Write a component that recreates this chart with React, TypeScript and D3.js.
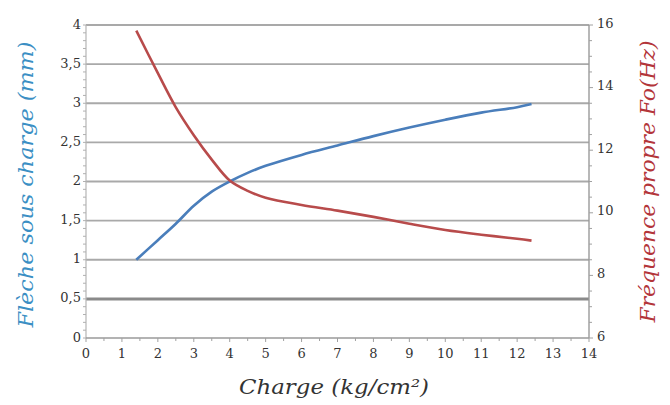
import * as d3 from "d3";
import { useEffect, useRef } from "react";

// Values
const charge = [1.4, 2, 2.5, 3, 3.5, 4, 4.5, 5, 6, 7, 8, 9, 10, 11, 12, 12.4];
const fleche = [1.0, 1.25, 1.46, 1.69, 1.87, 2.0, 2.11, 2.2, 2.34, 2.46, 2.58, 2.69, 2.79, 2.88, 2.95, 2.99];
const frequence = [15.82, 14.46, 13.37, 12.48, 11.7, 11.03, 10.7, 10.48, 10.25, 10.07, 9.87, 9.65, 9.45, 9.3, 9.17, 9.11];

const leftTicks = [0, 0.5, 1, 1.5, 2, 2.5, 3, 3.5, 4];
const rightTicks = [6, 8, 10, 12, 14, 16];
const xTicks = d3.range(0, 15);

export default function App() {
    const ref = useRef<SVGSVGElement>(null);

    useEffect(() => {
        const width = 670;
        const height = 405;
        const margin = { top: 25, right: 81, bottom: 67, left: 86 };

        const svg = d3.select(ref.current)
            .attr('width', width)
            .attr('height', height);

        svg.selectAll('*').remove();

        const x = d3.scaleLinear()
            .domain([0, 14])
            .range([margin.left, width - margin.right]);

        const yLeft = d3.scaleLinear()
            .domain([0, 4])
            .range([height - margin.bottom, margin.top]);

        const yRight = d3.scaleLinear()
            .domain([6, 16])
            .range([height - margin.bottom, margin.top]);

        const tickFont = "'DejaVu Serif', serif";

        // Horizontal grid lines
        svg.append('g')
            .selectAll('line')
            .data(leftTicks.filter(d => d > 0))
            .join('line')
            .attr('x1', x(0))
            .attr('x2', x(14))
            .attr('y1', d => yLeft(d))
            .attr('y2', d => yLeft(d))
            .attr('stroke', d => d === 0.5 ? '#8a8a8a' : '#a9a9a9')
            .attr('stroke-width', d => d === 0.5 ? 3 : 1.8);

        // Left axis (minor ticks every 0.1)
        const leftAxis = svg.append('g')
            .attr('transform', `translate(${margin.left},0)`);
        leftAxis.append('line')
            .attr('y1', yLeft(0)).attr('y2', yLeft(4))
            .attr('stroke', '#b5b5b5').attr('stroke-width', 1.2);
        leftAxis.selectAll('.minor')
            .data(d3.range(0, 41).map(d => d / 10))
            .join('line')
            .classed('minor', true)
            .attr('x1', -3).attr('x2', 0)
            .attr('y1', d => yLeft(d)).attr('y2', d => yLeft(d))
            .attr('stroke', '#b0b0b0');
        leftAxis.selectAll('text')
            .data(leftTicks)
            .join('text')
            .attr('x', -5)
            .attr('y', d => yLeft(d) - 1)
            .attr('dy', '0.35em')
            .attr('text-anchor', 'end')
            .style('font-family', tickFont)
            .style('font-size', '13px')
            .style('fill', '#333')
            .text(d => String(d).replace('.', ','));

        // Right axis (minor ticks every 0.5)
        const rightAxis = svg.append('g')
            .attr('transform', `translate(${width - margin.right},0)`);
        rightAxis.append('line')
            .attr('y1', yRight(6)).attr('y2', yRight(16))
            .attr('stroke', '#9a9a9a').attr('stroke-width', 1.4);
        rightAxis.selectAll('.minor')
            .data(d3.range(12, 33).map(d => d / 2))
            .join('line')
            .classed('minor', true)
            .attr('x1', 0).attr('x2', d => d % 2 === 0 ? 4 : 3)
            .attr('y1', d => yRight(d)).attr('y2', d => yRight(d))
            .attr('stroke', '#a0a0a0');
        rightAxis.selectAll('text')
            .data(rightTicks)
            .join('text')
            .attr('x', 8)
            .attr('y', d => yRight(d) - 2)
            .attr('dy', '0.35em')
            .style('font-family', tickFont)
            .style('font-size', '13px')
            .style('fill', '#333')
            .text(d => d);

        // Bottom axis
        const bottomAxis = svg.append('g')
            .attr('transform', `translate(0,${yLeft(0)})`);
        bottomAxis.append('line')
            .attr('x1', x(0)).attr('x2', x(14))
            .attr('stroke', '#9a9a9a').attr('stroke-width', 1.4);
        bottomAxis.selectAll('.minor')
            .data(d3.range(0, 29).map(d => d / 2))
            .join('line')
            .classed('minor', true)
            .attr('x1', d => x(d)).attr('x2', d => x(d))
            .attr('y1', 0).attr('y2', d => Number.isInteger(d) ? 4 : 3)
            .attr('stroke', '#a0a0a0');
        bottomAxis.selectAll('text')
            .data(xTicks)
            .join('text')
            .attr('x', d => x(d))
            .attr('y', 20)
            .attr('text-anchor', 'middle')
            .style('font-family', tickFont)
            .style('font-size', '13px')
            .style('fill', '#333')
            .text(d => d);

        // Curves
        const lineLeft = d3.line<number>()
            .x((d, i) => x(charge[i]))
            .y(d => yLeft(d))
            .curve(d3.curveCatmullRom.alpha(0.5));

        const lineRight = d3.line<number>()
            .x((d, i) => x(charge[i]))
            .y(d => yRight(d))
            .curve(d3.curveCatmullRom.alpha(0.5));

        svg.append('path')
            .datum(fleche)
            .attr('d', lineLeft)
            .attr('fill', 'none')
            .attr('stroke', '#4a7ebb')
            .attr('stroke-width', 2.6);

        svg.append('path')
            .datum(frequence)
            .attr('d', lineRight)
            .attr('fill', 'none')
            .attr('stroke', '#b84b4b')
            .attr('stroke-width', 2.6);

        // Axis titles
        const titleFont = "'DejaVu Serif', serif";

        svg.append('text')
            .attr('transform', `translate(33,${(yLeft(0) + yLeft(4)) / 2 + 3}) rotate(-90)`)
            .attr('text-anchor', 'middle')
            .attr('textLength', 286)
            .attr('lengthAdjust', 'spacingAndGlyphs')
            .style('font-family', titleFont)
            .style('font-style', 'italic')
            .style('font-size', '21px')
            .style('fill', '#3b8fc4')
            .text('Flèche sous charge (mm)');

        svg.append('text')
            .attr('transform', `translate(655,${(yRight(6) + yRight(16)) / 2}) rotate(-90)`)
            .attr('text-anchor', 'middle')
            .attr('textLength', 282)
            .attr('lengthAdjust', 'spacingAndGlyphs')
            .style('font-family', titleFont)
            .style('font-style', 'italic')
            .style('font-size', '21px')
            .style('fill', '#b3353a')
            .text('Fréquence propre Fo(Hz)');

        svg.append('text')
            .attr('x', 334)
            .attr('y', 394)
            .attr('text-anchor', 'middle')
            .attr('textLength', 190)
            .attr('lengthAdjust', 'spacingAndGlyphs')
            .style('font-family', titleFont)
            .style('font-style', 'italic')
            .style('font-size', '21px')
            .style('fill', '#333')
            .text('Charge (kg/cm²)');
    }, []);

    return (
        <svg ref={ref} style={{ position: 'absolute', left: 0, top: 0, background: '#fff' }}></svg>
    );
}
